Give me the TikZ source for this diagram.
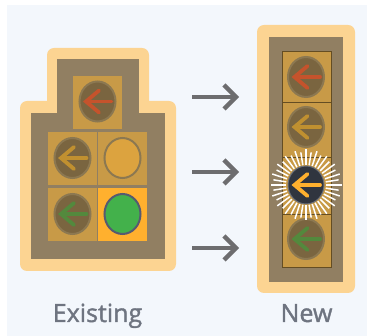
\documentclass[tikz,border=0pt]{standalone}
\usepackage{fontspec}
\setmainfont{Open Sans}
\newfontfamily\capfont[FakeBold=1.4]{Open Sans}
\usetikzlibrary{positioning,shapes.geometric}
\definecolor{cBack}{HTML}{F3F7FC}
\definecolor{cPad}{HTML}{FCD492}
\definecolor{cHouse}{HTML}{917F62}
\definecolor{cBox}{HTML}{C89A47}
\definecolor{cLit}{HTML}{FFB02E}
\definecolor{cDim}{HTML}{7A6540}
\definecolor{cRing}{HTML}{8C7851}
\definecolor{cRed}{HTML}{C5532C}
\definecolor{cAmber}{HTML}{C09030}
\definecolor{cGreen}{HTML}{53893D}
\definecolor{cDark}{HTML}{30353F}
\definecolor{cGrey}{HTML}{6D6D6F}
\definecolor{cText}{HTML}{6E7480}
\definecolor{cGo}{HTML}{43B14B}
\definecolor{cGoRing}{HTML}{565A70}
\definecolor{cOff}{HTML}{DCA33F}
\tikzset{lampbox/.style={
  shape=rectangle,
  fill=cBox,
  inner sep=0pt,
  outer sep=0pt,
  minimum width=49pt,
  minimum height=53pt,
  }
}
\tikzset{stackbox/.style={
  lampbox,
  draw=black!50!cBox,
  line width=0.6pt,
  }
}
\tikzset{lamp/.style={
  shape=ellipse,
  draw=cRing,
  fill=cDim,
  line width=2pt,
  inner sep=0pt,
  minimum width=36pt,
  minimum height=40pt,
  }
}
\tikzset{lamparrow/.style={
  line width=3.8pt,
  line cap=round,
  line join=miter,
  }
}
\tikzset{goarrow/.style={
  draw=cGrey,
  line width=4.5pt,
  }
}
\tikzset{caption/.style={
  text=cText,
  font=\capfont\fontsize{25}{30}\selectfont,
  anchor=base,
  inner sep=0pt,
  }
}
\begin{document}
\begin{tikzpicture}[x=1pt,y=-1pt]
      \useasboundingbox (0,0) rectangle (367,336);
      \fill[white] (0,0) rectangle (367,336);
      \fill[cBack] (7,5) rectangle (367,336);

      % existing signal
      \fill[cPad,rounded corners=7pt] (20,101) rectangle (176,271);
      \fill[cPad,rounded corners=7pt] (47,48) rectangle (149,120);
      \fill[cHouse] (31,113) rectangle (165,259);
      \fill[cHouse] (57,59) rectangle (139,120);
      \node [lampbox] (b1) at (97.5,102.5) { };
      \node [lampbox] (b2) at (72.5,158.5) { };
      \node [lampbox, right=1pt of b2] (b3) { };
      \node [lampbox, below=3pt of b2] (b4) { };
      \node [lampbox, fill=cLit, right=1pt of b4] (b5) { };
      \node [lamp] (l1) at (97.5,101.5) { };
      \node [lamp] (l2) at (72.5,158) { };
      \node [lamp, draw=cRing, fill=cOff] (l3) at (122.5,158) { };
      \node [lamp] (l4) at (72.5,214) { };
      \node [lamp, draw=cGoRing, fill=cGo] (l5) at (122.5,214) { };

      % new signal
      \fill[cPad,rounded corners=7pt] (257,25) rectangle (355,293);
      \fill[cHouse] (269,37) rectangle (343,282);
      \node [stackbox, minimum height=51pt] (s1) at (306.5,76.5) { };
      \node [stackbox, minimum height=55pt] (s2) at (306.5,129.5) { };
      \node [stackbox, minimum height=57pt] (s3) at (306.5,185.5) { };
      \node [stackbox, minimum height=53pt] (s4) at (306.5,240.5) { };
      \node [lamp] (n1) at (306,77) { };
      \node [lamp] (n2) at (306,127) { };
      \node [lamp] (n4) at (306,239) { };

      % burst round the lit lamp
      \coordinate (burst) at (306,185);
      \foreach \ang [count=\k] in {0,9,...,351} {
        \pgfmathsetmacro{\rayend}{isodd(\k) ? 35.5 : 33}
        \draw[white, line width=1.5pt, shift={(burst)}] (\ang:20) -- (\ang:\rayend);
      }
      \node [lamp, draw=cDark!70!cBack, fill=cDark, line width=1pt, minimum width=36pt, minimum height=38pt] (n3) at (burst) { };

      % lamp arrows
      \foreach \nm/\col in {l1/cRed, l2/cAmber, l4/cGreen, n1/cRed, n2/cAmber, n3/cLit, n4/cGreen} {
        \draw[lamparrow, \col, shift={(\nm)}] (14,0) -- (-11,0);
        \draw[lamparrow, \col, shift={(\nm)}] (1.5,-11) -- (-11.5,0) -- (1.5,11);
      }

      % arrows from old to new
      \foreach \i/\ypos in {1/97,2/172,3/248} {
        \coordinate (from\i) at (192,\ypos);
        \coordinate (to\i) at (236,\ypos);
        \coordinate (up\i) at (224,\ypos-12);
        \coordinate (dn\i) at (224,\ypos+12);
        \draw[goarrow] (from\i) -- (to\i);
        \draw[goarrow] (up\i) -- (to\i) -- (dn\i);
      }

      \node [caption] (lbOld) at (97.5,322) {Existing};
      \node [caption] (lbNew) at (306.5,322) {New};
\end{tikzpicture}
\end{document}
